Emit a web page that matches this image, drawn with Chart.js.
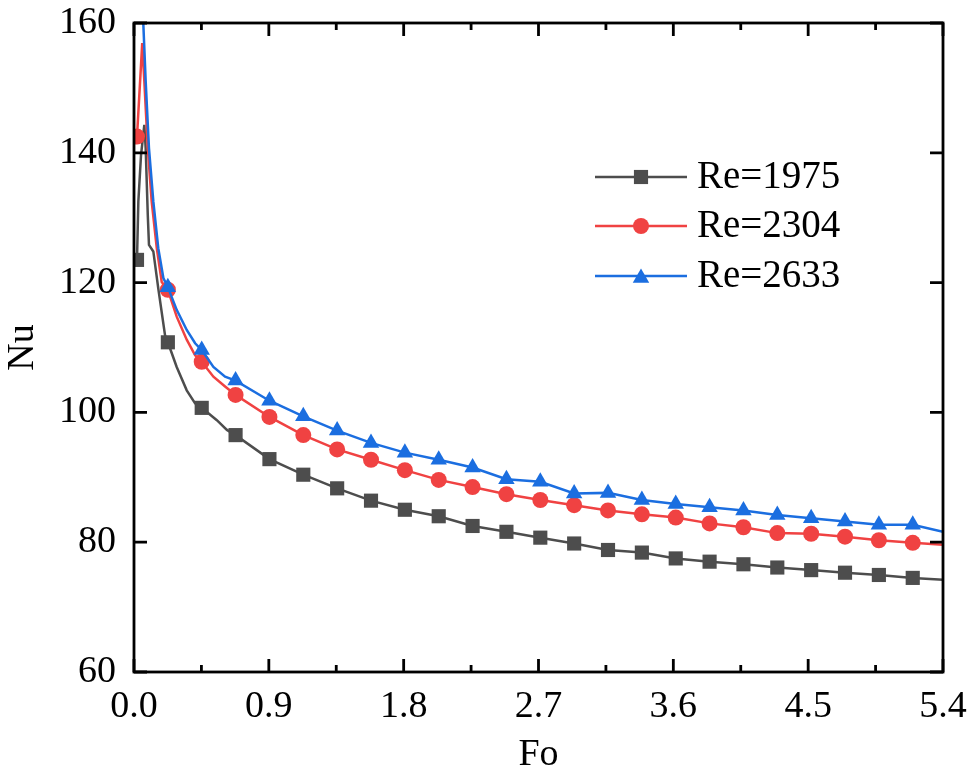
<!DOCTYPE html>
<html>
<head>
<meta charset="utf-8">
<title>Nu vs Fo</title>
<script src="https://cdn.jsdelivr.net/npm/chart.js@4.4.1/dist/chart.umd.min.js"></script>
<style>
  html, body { margin: 0; padding: 0; background: #fff; }
  #wrap { width: 969px; height: 778px; }
</style>
</head>
<body>
<div id="wrap"><canvas id="nuChart" width="969" height="778"></canvas></div>
<script>
// ---------- Data ----------
const seriesLabels = ['Re=1975', 'Re=2304', 'Re=2633'];
const seriesColors = ['#4d4d4d', '#f04242', '#1b6ee0'];
const seriesMarkers = ['rect', 'circle', 'triangle'];

const xTicks = [0, 0.9, 1.8, 2.7, 3.6, 4.5, 5.4];
const yTicks = [60, 80, 100, 120, 140, 160];

// Fo positions of the symbols (same for all three curves)
const markFo = [0.02, 0.226, 0.452, 0.678, 0.904, 1.13, 1.356, 1.582, 1.808, 2.034, 2.26, 2.486,
  2.712, 2.938, 3.164, 3.39, 3.616, 3.842, 4.068, 4.294, 4.52, 4.746, 4.972, 5.198];

const nu1975Marks = [123.5, 110.8, 100.7, 96.5, 92.8, 90.4, 88.3, 86.4, 85.0, 84.0, 82.5, 81.6,
  80.7, 79.8, 78.8, 78.4, 77.5, 77.0, 76.6, 76.1, 75.7, 75.3, 74.95, 74.5];
const nu2304Marks = [142.5, 118.9, 107.8, 102.7, 99.3, 96.5, 94.3, 92.7, 91.1, 89.6, 88.5, 87.4,
  86.5, 85.7, 84.9, 84.3, 83.8, 82.9, 82.3, 81.4, 81.3, 80.85, 80.3, 79.9];
const nu2633Marks = [165, 119.3, 109.6, 104.9, 101.8, 99.4, 97.2, 95.3, 93.8, 92.7, 91.5, 89.7,
  89.3, 87.5, 87.6, 86.5, 85.9, 85.4, 84.9, 84.2, 83.7, 83.2, 82.7, 82.7];

// extra curve points between the symbols (peak region and the bend), plus the end at Fo=5.4
const fo1975Extra = [0.029, 0.047, 0.069, 0.078, 0.092, 0.100, 0.129, 0.162, 0.207, 0.285, 0.352, 0.408, 0.553, 0.620, 5.4];
const nu1975Extra = [132.5, 139.7, 144.3, 140.7, 130.4, 125.8, 124.8, 119.1, 111.9, 107.0, 103.4, 101.4, 98.8, 97.3, 74.2];

const fo2304Extra = [0.055, 0.069, 0.092, 0.118, 0.152, 0.185, 0.285, 0.352, 0.408, 0.530, 0.608, 5.4];
const nu2304Extra = [156.9, 151.0, 140.7, 132.5, 125.3, 120.1, 114.75, 111.2, 108.8, 105.5, 104.0, 79.6];

const fo2633Extra = [0.055, 0.062, 0.078, 0.100, 0.129, 0.162, 0.196, 0.285, 0.352, 0.408, 0.530, 0.608, 5.4];
const nu2633Extra = [172, 160, 151.0, 140.7, 132.5, 125.3, 120.7, 115.8, 112.7, 110.65, 107.0, 105.5, 81.6];

// ---------- helpers ----------
function toPoints(xs, ys) {
  return xs.map((x, i) => ({ x: x, y: ys[i] }));
}

function curve(markNu, extraFo, extraNu) {
  return toPoints(markFo, markNu).concat(toPoints(extraFo, extraNu)).sort((a, b) => a.x - b.x);
}

const curves = [
  curve(nu1975Marks, fo1975Extra, nu1975Extra),
  curve(nu2304Marks, fo2304Extra, nu2304Extra),
  curve(nu2633Marks, fo2633Extra, nu2633Extra)
];
const marks = [
  toPoints(markFo, nu1975Marks),
  toPoints(markFo, nu2304Marks),
  toPoints(markFo, nu2633Marks)
];
const markerRadius = [10, 8, 9.5];

// ---------- datasets ----------
const datasets = [];
seriesLabels.forEach((label, i) => {
  // later series on top (lower order = drawn last)
  datasets.push({
    label: label,
    data: curves[i],
    showLine: true,
    borderColor: seriesColors[i],
    borderWidth: 2.5,
    pointRadius: 0,
    fill: false,
    tension: 0,
    clip: 0,
    order: (2 - i) * 2 + 1
  });
  datasets.push({
    label: label + ' symbols',
    data: marks[i],
    showLine: false,
    pointStyle: seriesMarkers[i],
    pointRadius: markerRadius[i],
    pointBackgroundColor: seriesColors[i],
    pointBorderColor: seriesColors[i],
    pointBorderWidth: 0,
    clip: 0,
    order: (2 - i) * 2
  });
});

// ---------- plugins ----------
// frame on all four sides with inward ticks
const frameTicks = {
  id: 'frameTicks',
  afterDraw(chart) {
    const { ctx, chartArea: a, scales: { x, y } } = chart;
    ctx.save();
    ctx.strokeStyle = '#000';
    ctx.lineWidth = 2.8;
    ctx.beginPath();
    x.ticks.forEach((t, i) => {
      const px = x.getPixelForValue(t.value);
      const len = i % 2 === 0 ? 13 : 7;
      ctx.moveTo(px, a.bottom);
      ctx.lineTo(px, a.bottom - len);
      ctx.moveTo(px, a.top);
      ctx.lineTo(px, a.top + len);
    });
    y.ticks.forEach(t => {
      const py = y.getPixelForValue(t.value);
      ctx.moveTo(a.left, py);
      ctx.lineTo(a.left + 13, py);
      ctx.moveTo(a.right, py);
      ctx.lineTo(a.right - 13, py);
    });
    ctx.stroke();
    ctx.strokeRect(a.left, a.top, a.right - a.left, a.bottom - a.top);
    ctx.restore();
  }
};

// legend inside the plot: line with symbol in the middle, then the label
const lineLegend = {
  id: 'lineLegend',
  afterDraw(chart) {
    const { ctx } = chart;
    const x0 = 595, x1 = 687, textX = 697, rowY = [177, 226, 276];
    ctx.save();
    seriesLabels.forEach((label, i) => {
      const yy = rowY[i];
      ctx.strokeStyle = seriesColors[i];
      ctx.lineWidth = 2.5;
      ctx.beginPath();
      ctx.moveTo(x0, yy);
      ctx.lineTo(x1, yy);
      ctx.stroke();
      ctx.fillStyle = seriesColors[i];
      Chart.helpers.drawPoint(ctx, {
        pointStyle: seriesMarkers[i],
        radius: markerRadius[i],
        borderWidth: 0,
        rotation: 0
      }, (x0 + x1) / 2, seriesMarkers[i] === 'triangle' ? yy + 2 : yy);
      ctx.fillStyle = '#000';
      ctx.font = '39px "Liberation Serif"';
      ctx.textBaseline = 'middle';
      ctx.textAlign = 'left';
      ctx.fillText(label, textX, yy + 1);
    });
    ctx.restore();
  }
};

// ---------- chart ----------
Chart.defaults.font.family = '"Liberation Serif", "Times New Roman", serif';
Chart.defaults.color = '#000';

new Chart(document.getElementById('nuChart'), {
  type: 'scatter',
  data: { datasets: datasets },
  options: {
    responsive: false,
    animation: false,
    devicePixelRatio: 1,
    layout: { padding: { left: 0, right: 26, top: 23, bottom: 0 } },
    plugins: {
      legend: { display: false },
      tooltip: { enabled: false }
    },
    scales: {
      x: {
        type: 'linear',
        min: 0,
        max: 5.4,
        grid: { display: false },
        border: { display: false },
        ticks: {
          stepSize: 0.45,
          autoSkip: false,
          maxRotation: 0,
          padding: 4,
          font: { size: 38 },
          callback: (v) => {
            const hit = xTicks.find(t => Math.abs(t - v) < 1e-6);
            return hit === undefined ? '' : hit.toFixed(1);
          }
        },
        title: {
          display: true,
          text: 'Fo',
          font: { size: 38 },
          padding: { top: 0, bottom: 0 }
        },
        afterFit: (scale) => {
          scale.height = 106;
          scale.paddingLeft = 0;
          scale.paddingRight = 0;
        }
      },
      y: {
        type: 'linear',
        min: 60,
        max: 160,
        grid: { display: false },
        border: { display: false },
        ticks: {
          stepSize: 20,
          padding: 10,
          font: { size: 38 },
          callback: (v) => (yTicks.includes(v) ? String(v) : '')
        },
        title: {
          display: true,
          text: 'Nu',
          font: { size: 38 },
          padding: { top: 0, bottom: 0 }
        },
        afterFit: (scale) => {
          scale.width = 134;
          scale.paddingTop = 0;
          scale.paddingBottom = 0;
        }
      }
    }
  },
  plugins: [frameTicks, lineLegend]
});
</script>
</body>
</html>
